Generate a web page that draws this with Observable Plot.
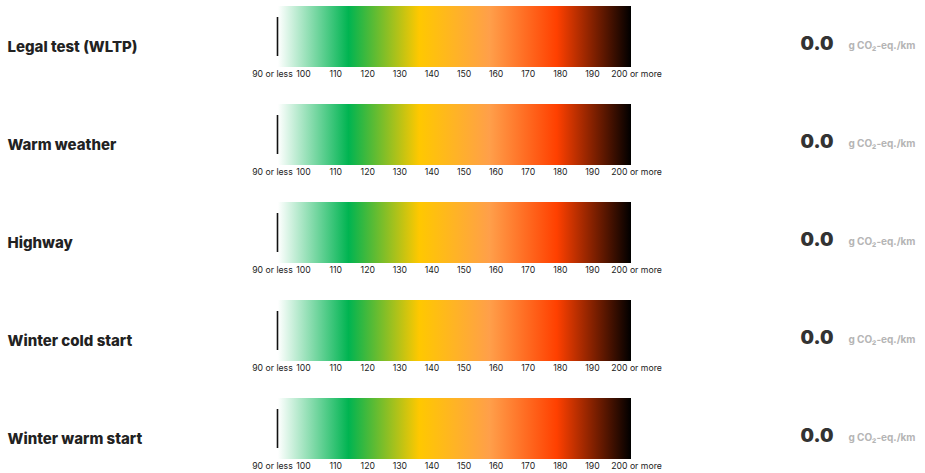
<!DOCTYPE html>
<html>
<head>
<meta charset="utf-8">
<script src="https://cdn.jsdelivr.net/npm/d3@7"></script>
<script src="https://cdn.jsdelivr.net/npm/@observablehq/plot@0.6"></script>
<style>
  html, body { margin: 0; padding: 0; background: #fff; }
  #chart svg { display: block; }
</style>
</head>
<body>
<div id="chart"></div>
<script>
// ---- data ----
const categories = ["Legal test (WLTP)", "Warm weather", "Highway", "Winter cold start", "Winter warm start"];
const values = [0.0, 0.0, 0.0, 0.0, 0.0];
const unitLabel = "g CO\u2082-eq./km";
const scaleMin = 90;
const scaleMax = 200;
const midTicks = [100, 110, 120, 130, 140, 150, 160, 170, 180, 190];
const firstTickLabel = "90 or less";
const lastTickLabel = "200 or more";

const rows = categories.map((c, i) => ({cat: c, value: values[i]}));
const tickRows = categories.flatMap(c => midTicks.map(t => ({cat: c, t})));

const font = "Inter, 'Noto Sans', sans-serif";

const plot = Plot.plot({
  width: 925,
  height: 473,
  marginLeft: 0,
  marginRight: 0,
  marginTop: 0,
  marginBottom: 0,
  style: {fontFamily: font, background: "#fff", color: "#222"},
  x: {domain: [scaleMin, scaleMax], range: [278, 631], axis: null},
  y: {type: "band", domain: categories, range: [5, 460], paddingInner: 0.38, paddingOuter: 0, axis: null},
  marks: [
    Plot.barX(rows, {x1: () => scaleMin, x2: () => scaleMax, y: "cat", fill: "url(#co2grad)"}),
    Plot.tickX(rows, {x: d => Math.max(scaleMin, Math.min(scaleMax, d.value)), y: "cat", stroke: "#111", strokeWidth: 1.6, insetTop: 11, insetBottom: 11, dx: -1}),
    Plot.text(tickRows, {x: "t", y: "cat", text: d => String(d.t), dx: -7, dy: 37.5, fontSize: 8.7, fill: "#222"}),
    Plot.text(rows, {x: () => scaleMin, y: "cat", text: () => firstTickLabel, dx: -6, dy: 37.5, fontSize: 8.7, fill: "#222"}),
    Plot.text(rows, {x: () => scaleMax, y: "cat", text: () => lastTickLabel, dx: 5, dy: 37.5, fontSize: 8.7, fill: "#222"}),
    Plot.text(rows, {y: "cat", text: "cat", frameAnchor: "left", textAnchor: "start", dx: 7, dy: 10, fontSize: 15, fontWeight: 800, fill: "#222"}),
    Plot.text(rows, {y: "cat", text: d => d.value.toFixed(1), frameAnchor: "right", textAnchor: "end", dx: -92, dy: 6.5, fontSize: 19, fontWeight: 900, fill: "#333"}),
    Plot.text(rows, {y: "cat", text: () => unitLabel, frameAnchor: "right", textAnchor: "end", dx: -10, dy: 8.5, fontSize: 10, fontWeight: 700, fill: "#b5b5b5", letterSpacing: "0.12em"})
  ]
});

const svg = d3.select(plot);
const defs = svg.insert("defs", ":first-child");
const grad = defs.append("linearGradient").attr("id", "co2grad").attr("x1", "0").attr("x2", "1").attr("y1", "0").attr("y2", "0");
[[0, "#ffffff"], [0.2, "#00b451"], [0.4, "#ffc800"], [0.6, "#ff9f4a"], [0.79, "#ff4000"], [1, "#000000"]]
  .forEach(([o, c]) => grad.append("stop").attr("offset", o).attr("stop-color", c));

document.getElementById("chart").appendChild(plot);
</script>
</body>
</html>
